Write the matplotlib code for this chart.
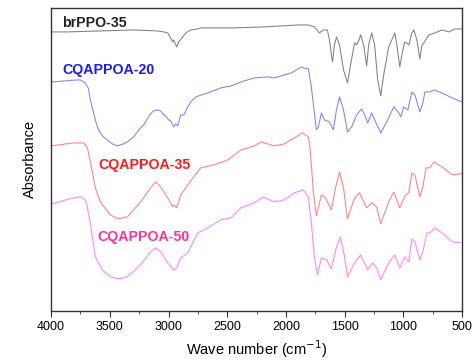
"""
Spectres FTIR de brPPO-35 et des membranes CQAPPOA-20/35/50 (courbes décalées).
"""
import matplotlib
matplotlib.use("Agg")
import matplotlib.pyplot as plt
from matplotlib.ticker import MultipleLocator

plt.rcParams["font.family"] = ["Liberation Sans", "DejaVu Sans"]

# brPPO-35
wn_ppo = [4000, 3863, 3581, 3298, 3093, 3042, 3007, 2982, 2965, 2956, 2930, 2913, 2879, 2853,
          2811, 2751, 2725, 2468, 2186, 1895, 1809, 1758, 1715, 1681, 1647, 1630, 1604, 1587,
          1570, 1544, 1510, 1476, 1450, 1416, 1398, 1381, 1364, 1339, 1313, 1296, 1270, 1245,
          1219, 1193, 1168, 1125, 1073, 1056, 1031, 1005, 988, 971, 954, 928, 911, 885, 860,
          842, 826, 800, 783, 731, 671, 611, 560, 500]
abs_ppo = [2.79, 2.79, 2.80, 2.81, 2.80, 2.79, 2.78, 2.73, 2.69, 2.71, 2.64, 2.69, 2.74, 2.78,
           2.81, 2.82, 2.83, 2.83, 2.84, 2.86, 2.86, 2.84, 2.78, 2.81, 2.81, 2.71, 2.49, 2.66,
           2.74, 2.66, 2.41, 2.28, 2.46, 2.68, 2.66, 2.70, 2.76, 2.66, 2.45, 2.66, 2.78, 2.66,
           2.31, 2.15, 2.36, 2.64, 2.78, 2.66, 2.44, 2.61, 2.69, 2.68, 2.66, 2.78, 2.81, 2.71,
           2.52, 2.66, 2.68, 2.73, 2.76, 2.78, 2.81, 2.79, 2.82, 2.82]

# CQAPPOA-20
wn_20 = [3991, 3778, 3752, 3709, 3683, 3666, 3649, 3623, 3606, 3581, 3555, 3521, 3478, 3435,
         3384, 3350, 3298, 3238, 3213, 3153, 3127, 3093, 3067, 3042, 3024, 2999, 2982, 2956,
         2939, 2922, 2896, 2870, 2836, 2811, 2768, 2665, 2554, 2468, 2383, 2271, 2152, 2100,
         1955, 1869, 1852, 1809, 1784, 1758, 1741, 1724, 1698, 1673, 1630, 1596, 1570, 1544,
         1510, 1476, 1441, 1398, 1356, 1330, 1304, 1270, 1245, 1193, 1142, 1082, 1039, 1022,
         997, 962, 928, 902, 860, 834, 817, 774, 740, 671, 586, 500]
abs_20 = [2.29, 2.31, 2.31, 2.28, 2.23, 2.11, 2.03, 1.91, 1.84, 1.78, 1.74, 1.71, 1.67, 1.65,
          1.67, 1.69, 1.74, 1.83, 1.86, 1.97, 2.00, 2.01, 2.00, 1.96, 1.95, 1.91, 1.90, 1.84,
          1.87, 1.85, 1.96, 1.96, 2.04, 2.09, 2.14, 2.18, 2.23, 2.25, 2.29, 2.33, 2.34, 2.33,
          2.38, 2.44, 2.43, 2.42, 2.24, 1.98, 1.81, 1.84, 1.98, 1.91, 1.89, 1.81, 2.01, 2.14,
          2.01, 1.79, 1.84, 1.96, 2.02, 1.96, 1.88, 1.98, 1.91, 1.78, 1.89, 2.04, 1.98, 1.94,
          2.04, 2.01, 2.19, 2.16, 1.99, 2.08, 2.19, 2.19, 2.21, 2.18, 2.13, 2.09]

# CQAPPOA-35
wn_35 = [3991, 3812, 3726, 3692, 3666, 3623, 3581, 3495, 3427, 3350, 3238, 3153, 3110, 3067,
         3007, 2965, 2956, 2930, 2896, 2836, 2785, 2725, 2614, 2494, 2383, 2271, 2212, 2100,
         2015, 1929, 1861, 1809, 1792, 1767, 1741, 1724, 1698, 1664, 1613, 1578, 1544, 1510,
         1476, 1416, 1373, 1313, 1270, 1228, 1193, 1125, 1082, 1031, 988, 954, 928, 902, 860,
         834, 808, 774, 740, 671, 586, 517, 500]
abs_35 = [1.65, 1.68, 1.68, 1.64, 1.49, 1.23, 1.09, 0.96, 0.92, 0.94, 1.09, 1.23, 1.29, 1.24,
          1.13, 1.04, 1.06, 1.03, 1.16, 1.26, 1.34, 1.43, 1.46, 1.51, 1.61, 1.65, 1.69, 1.65,
          1.67, 1.73, 1.78, 1.74, 1.59, 1.19, 0.95, 1.03, 1.16, 1.13, 1.01, 1.23, 1.39, 1.23,
          0.92, 1.13, 1.18, 1.03, 1.08, 1.04, 0.87, 1.09, 1.19, 1.03, 1.15, 1.18, 1.38, 1.36,
          1.14, 1.24, 1.43, 1.43, 1.49, 1.44, 1.36, 1.37, 1.38]

# CQAPPOA-50
wn_50 = [3991, 3812, 3735, 3700, 3666, 3623, 3564, 3495, 3427, 3350, 3238, 3153, 3110, 3067,
         3007, 2956, 2930, 2896, 2836, 2793, 2751, 2665, 2554, 2468, 2383, 2271, 2194, 2100,
         2015, 1929, 1852, 1809, 1784, 1758, 1732, 1698, 1655, 1613, 1570, 1536, 1501, 1476,
         1416, 1364, 1304, 1262, 1228, 1193, 1125, 1073, 1031, 988, 954, 928, 902, 860, 834,
         800, 774, 731, 671, 586, 509]
abs_50 = [1.07, 1.13, 1.14, 1.09, 0.88, 0.54, 0.41, 0.34, 0.32, 0.34, 0.46, 0.59, 0.63, 0.59,
          0.48, 0.41, 0.43, 0.53, 0.58, 0.68, 0.78, 0.83, 0.91, 0.93, 1.03, 1.08, 1.14, 1.09,
          1.11, 1.18, 1.21, 1.14, 0.88, 0.54, 0.36, 0.53, 0.51, 0.42, 0.64, 0.74, 0.54, 0.34,
          0.48, 0.56, 0.41, 0.48, 0.43, 0.31, 0.48, 0.56, 0.43, 0.54, 0.49, 0.72, 0.69, 0.51,
          0.59, 0.78, 0.78, 0.83, 0.78, 0.69, 0.68]

samples = ["brPPO-35", "CQAPPOA-20", "CQAPPOA-35", "CQAPPOA-50"]
line_colors = ["#808080", "#8080ff", "#ff8080", "#ff80ff"]
label_colors = ["#222222", "#1a1aff", "#ff1a1a", "#ff3399"]
label_pos = [(3905, 2.88), (3905, 2.41), (3598, 1.46), (3606, 0.74)]

fig = plt.figure(figsize=(4.73, 3.61), dpi=100)
ax = fig.add_axes([0.108, 0.139, 0.869, 0.839])

spectra = [(wn_ppo, abs_ppo), (wn_20, abs_20), (wn_35, abs_35), (wn_50, abs_50)]
for (wn, ab), c in zip(spectra, line_colors):
    ax.plot(wn, ab, color=c, lw=0.75)

for name, c, (x, y) in zip(samples, label_colors, label_pos):
    ax.text(x, y, name, color=c, fontsize=10.2, fontweight="bold", ha="left", va="center")

ax.set_xlim(4000, 500)
ax.set_ylim(0, 3.03)
ax.xaxis.set_major_locator(MultipleLocator(500))
ax.xaxis.set_minor_locator(MultipleLocator(250))
ax.tick_params(axis="x", which="major", direction="out", length=4, labelsize=9, color="#333333")
ax.tick_params(axis="x", which="minor", direction="out", length=2.5, color="#333333")
ax.set_yticks([])
for s in ax.spines.values():
    s.set_color("#333333")
    s.set_linewidth(1.0)

ax.set_xlabel("Wave number (cm$^{-1}$)", fontsize=10.5, labelpad=4)
ax.set_ylabel("Absorbance", fontsize=10.5, labelpad=10)

fig.savefig("out.png", dpi=100)
